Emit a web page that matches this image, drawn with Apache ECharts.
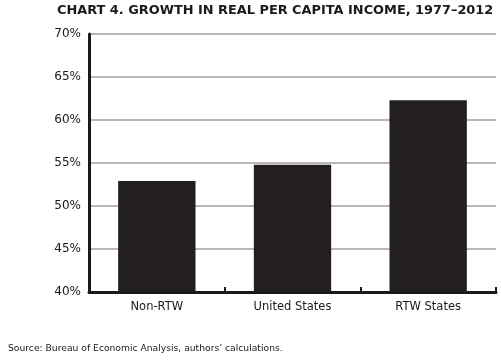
<!DOCTYPE html>
<html><head><meta charset="utf-8">
<script src="https://cdn.jsdelivr.net/npm/echarts@6/dist/echarts.min.js"></script>
<style>html,body{margin:0;padding:0;background:#fff}#c{width:501px;height:360px}</style>
</head><body><div id="c"></div>
<script>
var categories = ['Non-RTW', 'United States', 'RTW States'];
var growth = [52.9, 54.8, 62.3];
var titleText = 'CHART 4. GROWTH IN REAL PER CAPITA INCOME, 1977\u20132012';
var sourceText = 'Source: Bureau of Economic Analysis, authors\u2019 calculations.';

var chart = echarts.init(document.getElementById('c'), null, {renderer: 'canvas'});
chart.setOption({
  animation: false,
  backgroundColor: '#ffffff',
  title: [{
    text: titleText, left: 57, top: 4, padding: 0,
    textStyle: {fontFamily: 'DejaVu Sans', fontWeight: 'bold', fontSize: 12.9, color: '#1a1a1a'}
  }, {
    text: sourceText, left: 8, top: 344, padding: 0,
    textStyle: {fontFamily: 'DejaVu Sans', fontWeight: 'normal', fontSize: 9.2, color: '#1a1a1a'}
  }],
  grid: {left: 89, right: 5, top: 34, bottom: 68, containLabel: false},
  xAxis: {
    type: 'category', data: categories,
    axisLine: {lineStyle: {color: '#1a1a1a', width: 3}},
    axisTick: {show: true, inside: true, length: 5, lineStyle: {color: '#1a1a1a', width: 2}},
    axisLabel: {fontFamily: 'DejaVu Sans', fontSize: 11.5, color: '#1a1a1a', margin: 9}
  },
  yAxis: {
    type: 'value', min: 40, max: 70, interval: 5,
    axisLine: {show: true, lineStyle: {color: '#1a1a1a', width: 3}},
    axisTick: {show: false},
    axisLabel: {formatter: '{value}%', fontFamily: 'DejaVu Sans', fontSize: 12, color: '#1a1a1a', margin: 8},
    splitLine: {show: true, lineStyle: {color: '#bcb4bc', width: 2}}
  },
  series: [{
    type: 'bar', data: growth, barWidth: '57%',
    itemStyle: {color: '#231f20'}
  }]
});
</script></body></html>
